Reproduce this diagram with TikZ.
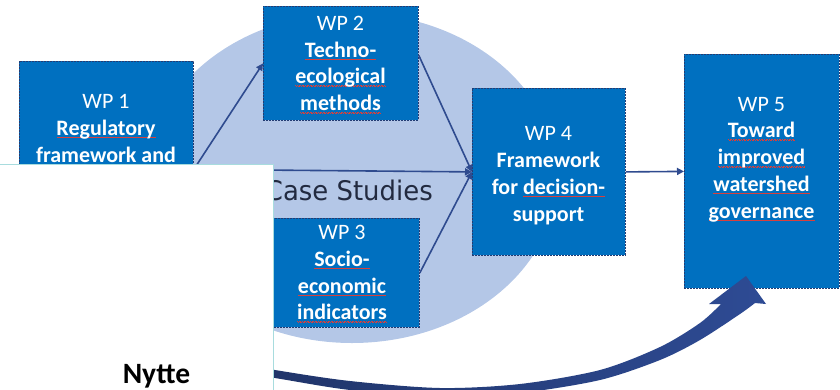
\documentclass[tikz,border=0pt]{standalone}
\usepackage{fontspec}
\usetikzlibrary{arrows.meta}
\setmainfont{Carlito}
\newfontfamily\casefont[FakeStretch=0.96]{DejaVu Sans}

\definecolor{wpblue}{HTML}{0070C0}
\definecolor{casebg}{HTML}{B4C7E7}
\definecolor{linknavy}{HTML}{2F4B8F}
\definecolor{edgenavy}{HTML}{233C73}
\definecolor{spellred}{HTML}{D8403C}
\definecolor{framecyan}{HTML}{A8DCDE}
\definecolor{casetext}{HTML}{222A40}
\definecolor{arrowdark}{HTML}{1E3163}
\definecolor{arrowlight}{HTML}{2E4B94}

% thin red wavy spelling mark under a word
\newsavebox\spellbox
\newcommand\spellwave{\hbox{\raise0.5pt\hbox{\rule{0.8pt}{0.45pt}}\rule{0.8pt}{0.45pt}}}
\newcommand\spellmark[1]{\sbox\spellbox{#1}%
  \rlap{\smash{\textcolor{spellred}{\lower2.4pt\hbox to\wd\spellbox{\xleaders\spellwave\hfill}}}}%
  \usebox\spellbox}

\tikzset{
  wpbox/.style={draw=edgenavy, dash pattern=on 2pt off 1pt, line width=0.8pt,
    fill=wpblue, inner sep=0pt, anchor=north west},
  wptext/.style={text=white, align=center, inner sep=0pt, anchor=north,
    font=\fontsize{22}{26.8}\selectfont},
  link/.style={draw=linknavy, line width=1.6pt, -{Triangle[length=7pt,width=7pt]}},
}

\begin{document}
\begin{tikzpicture}[x=1pt,y=-1pt]
\useasboundingbox (0,0) rectangle (840,389);
\clip (0,0) rectangle (840,389);

% case-study area
\fill[casebg] (352,178) ellipse [x radius=205pt, y radius=165pt];

% work packages
\node[wpbox, minimum width=174pt, minimum height=216pt] (wp1) at (19,61) {};
\node[wpbox, minimum width=155pt, minimum height=114pt] (wp2) at (263,6) {};
\node[wpbox, minimum width=154pt, minimum height=109pt] (wp3) at (265,218) {};
\node[wpbox, minimum width=153pt, minimum height=167pt] (wp4) at (472,88) {};
\node[wpbox, minimum width=155pt, minimum height=234pt] (wp5) at (684,54) {};

\node[wptext] (wp1txt) at (106,94.3) {WP 1\\\textbf{\spellmark{Regulatory}}\\\textbf{\spellmark{framework} and}};
\node[wptext] (wp2txt) at (340.5,15.8) {WP 2\\\textbf{\spellmark{Techno-}}\\\textbf{\spellmark{ecological}}\\\textbf{\spellmark{methods}}};
\node[wptext] (wp3txt) at (342,225.1) {WP 3\\\textbf{\spellmark{Socio-}}\\\textbf{\spellmark{economic}}\\\textbf{\spellmark{indicators}}};
\node[wptext] (wp4txt) at (548.5,126.5) {WP 4\\\textbf{Framework}\\\textbf{for \spellmark{decision-}}\\\textbf{support}};
\node[wptext] (wp5txt) at (761.5,96.8) {WP 5\\\textbf{\spellmark{Toward}}\\\textbf{\spellmark{improved}}\\\textbf{\spellmark{watershed}}\\\textbf{\spellmark{governance}}};

\node[font=\casefont\fontsize{27}{30}\selectfont, text=casetext, anchor=base east, inner sep=0pt] (casestudies) at (433,200.5) {Case Studies};

% flows between work packages
\draw[link] (wp1.east) -- (wp2.west);
\draw[link] (wp1.east) -- (wp4.west);
\draw[link] ([yshift=8pt]wp2.east) -- (wp4.west);
\draw[link] (wp3.east) -- (wp4.west);
\draw[link] (wp4.east) -- (wp5.west);

% broad curved arrow rising into WP 5
\shade[left color=arrowdark, right color=arrowlight]
  plot[smooth] coordinates {(190,355) (275,370) (350,381) (440,388) (520,384) (600,370) (660,347) (700,323) (721,304)}
  -- (709,304) -- (746,276) -- (766,304) -- (755,303)
  -- plot[smooth] coordinates {(755,303) (740,314) (700,340) (660,360) (600,380) (520,393) (440,397) (350,390) (275,378) (190,364)}
  -- cycle;

% overlaid note panel
\node[draw=framecyan, line width=1.2pt, fill=white, anchor=north west,
  minimum width=275pt, minimum height=240pt, inner sep=0pt] (notebox) at (-2,164) {};
\node[font=\fontsize{29.5}{34}\selectfont\bfseries, anchor=base, inner sep=0pt] (nytte) at (156.5,383) {Nytte};
\end{tikzpicture}
\end{document}
